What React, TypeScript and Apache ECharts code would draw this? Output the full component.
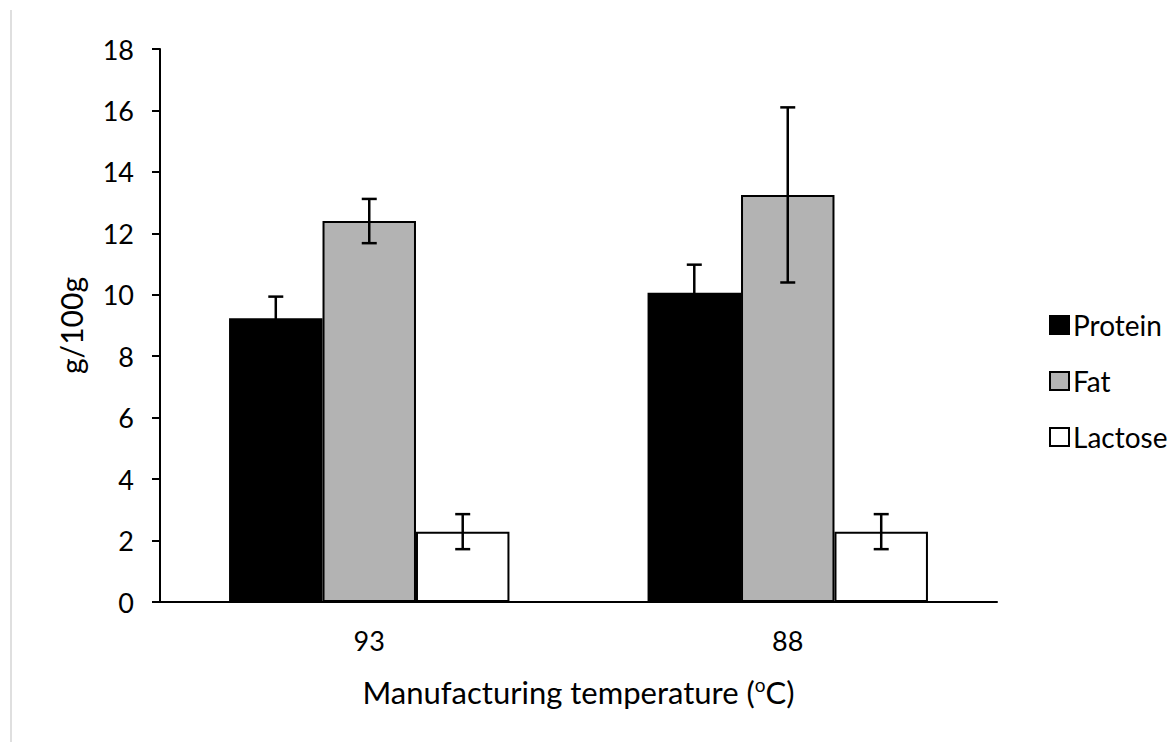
import React, { useEffect, useRef } from "react";
import * as echarts from "echarts";

const categories = ["93", "88"];
const seriesNames = ["Protein", "Fat", "Lactose"];
const proteinValues = [9.24, 10.07];
const proteinErrors = [0.7, 0.91];
const fatValues = [12.4, 13.25];
const fatErrors = [0.72, 2.85];
const lactoseValues = [2.29, 2.29];
const lactoseErrors = [0.57, 0.57];
const yTicks = { min: 0, max: 18, interval: 2 };

const FONT = "Lato, 'Open Sans', sans-serif";
const CATEGORY_GAP = 0.33;

export default function App() {
  const ref = useRef<HTMLDivElement>(null);
  useEffect(() => {
    if (!ref.current) return;
    const chart = echarts.init(ref.current, null, { renderer: "svg" });
    const valuesList = [proteinValues, fatValues, lactoseValues];
    const errorsList = [proteinErrors, fatErrors, lactoseErrors];
    const colors = ["#000000", "#b3b3b3", "#ffffff"];

    const barSeries = seriesNames.map((name, i) => ({
      name,
      type: "bar",
      data: valuesList[i],
      barGap: "0%",
      barCategoryGap: CATEGORY_GAP * 100 + "%",
      itemStyle: { color: colors[i], borderColor: "#000", borderWidth: 2 },
    }));

    const errorSeries = seriesNames.map((name, i) => ({
      name: name + " error",
      type: "custom",
      z: 10,
      data: categories.map((_, j) => [j, valuesList[i][j], errorsList[i][j]]),
      renderItem: (params: any, api: any) => {
        const idx = api.value(0);
        const v = api.value(1);
        const e = api.value(2);
        const band = api.size([1, 0])[0];
        const barW = (band * (1 - CATEGORY_GAP)) / 3;
        const center = api.coord([idx, v]);
        const x = center[0] + (i - 1) * barW;
        const yHi = api.coord([idx, v + e])[1];
        const yLo = api.coord([idx, v - e])[1];
        const cap = 7.5;
        const style = { stroke: "#000", lineWidth: 2.5 };
        return {
          type: "group",
          children: [
            { type: "line", shape: { x1: x, y1: yHi, x2: x, y2: yLo }, style },
            { type: "line", shape: { x1: x - cap, y1: yHi, x2: x + cap, y2: yHi }, style },
            { type: "line", shape: { x1: x - cap, y1: yLo, x2: x + cap, y2: yLo }, style },
          ],
        };
      },
      encode: { x: 0, y: 1 },
      tooltip: { show: false },
    }));

    chart.setOption({
      animation: false,
      backgroundColor: "#ffffff",
      textStyle: { fontFamily: FONT },
      graphic: [
        {
          type: "line",
          shape: { x1: 11, y1: 10, x2: 11, y2: 742 },
          style: { stroke: "#d4d4d4", lineWidth: 1.5 },
        },
      ],
      legend: {
        data: seriesNames,
        orient: "vertical",
        left: 1049,
        top: 311,
        itemWidth: 19,
        itemHeight: 18,
        itemGap: 28,
        icon: "rect",
        padding: 0,
        textStyle: { fontSize: 28, lineHeight: 28, color: "#000", fontFamily: FONT, padding: [0, 0, 0, -1] },
      },
      grid: { left: 160, right: 174, top: 49, bottom: 140, containLabel: false },
      xAxis: {
        type: "category",
        data: categories,
        name: "Manufacturing temperature ({sup|o}C)",
        nameLocation: "middle",
        nameGap: 73,
        nameTextStyle: {
          fontSize: 31,
          color: "#000",
          fontFamily: FONT,
          rich: { sup: { fontSize: 19, verticalAlign: "top", padding: [0, 0, 14, 0], color: "#000", fontFamily: FONT } },
        },
        axisLine: { lineStyle: { color: "#000", width: 2 } },
        axisTick: { show: false },
        axisLabel: { fontSize: 27, color: "#000", margin: 25, fontFamily: FONT },
      },
      yAxis: {
        type: "value",
        min: yTicks.min,
        max: yTicks.max,
        interval: yTicks.interval,
        name: "g/100g",
        nameLocation: "middle",
        nameGap: 74,
        nameTextStyle: { fontSize: 30, color: "#000", fontFamily: FONT },
        axisLine: { show: true, lineStyle: { color: "#000", width: 2 } },
        axisTick: { show: true, length: 8, lineStyle: { color: "#000", width: 2 } },
        splitLine: { show: false },
        axisLabel: { fontSize: 27, color: "#000", margin: 26, fontFamily: FONT },
      },
      series: [...barSeries, ...errorSeries],
    });
    return () => chart.dispose();
  }, []);
  return (
    <div
      ref={ref}
      style={{ position: "fixed", left: 0, top: 0, width: 1171, height: 742 }}
    />
  );
}
